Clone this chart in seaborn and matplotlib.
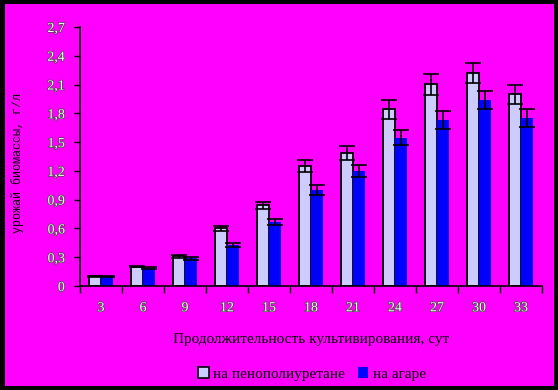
import numpy as np
import pandas as pd
import matplotlib
matplotlib.use("Agg")
import matplotlib.pyplot as plt
import matplotlib.patches as mpatches
import matplotlib.patheffects as pe
import seaborn as sns

days = ["3", "6", "9", "12", "15", "18", "21", "24", "27", "30", "33"]
ppu = [0.10, 0.20, 0.31, 0.60, 0.84, 1.25, 1.385, 1.84, 2.105, 2.22, 2.00]
ppu_err = [0.005, 0.005, 0.018, 0.03, 0.04, 0.063, 0.073, 0.094, 0.11, 0.104, 0.10]
agar = [0.10, 0.19, 0.29, 0.43, 0.67, 1.00, 1.20, 1.545, 1.73, 1.94, 1.75]
agar_err = [0.005, 0.01, 0.014, 0.02, 0.03, 0.05, 0.06, 0.08, 0.09, 0.094, 0.09]
series = ["на пенополиуретане", "на агаре"]
colors = ["#CCCCFF", "#0000FF"]
yticks = [0, 0.3, 0.6, 0.9, 1.2, 1.5, 1.8, 2.1, 2.4, 2.7]
ytick_labels = ["0", "0,3", "0,6", "0,9", "1,2", "1,5", "1,8", "2,1", "2,4", "2,7"]
xlabel = "Продолжительность культивирования, сут"
ylabel = "урожай биомассы, г/л"

df = pd.DataFrame({
    "day": days * 2,
    "value": ppu + agar,
    "series": [series[0]] * len(days) + [series[1]] * len(days),
})

W, H = 558, 390
fig = plt.figure(figsize=(W / 100, H / 100), dpi=100, facecolor="black")
fig.patches.append(mpatches.Rectangle((5 / W, 4 / H), 549 / W, 382 / H,
                                      transform=fig.transFigure, facecolor="#FF00FF",
                                      edgecolor="none", zorder=-5))
ax = fig.add_axes([80 / W, 104 / H, 462 / W, 259 / H])
ax.set_facecolor("none")
ax.set_zorder(2)

sns.barplot(data=df, x="day", y="value", hue="series", order=days,
            hue_order=series, palette=colors, width=0.59, saturation=1,
            errorbar=None, ax=ax, legend=False)

errs = [ppu_err, agar_err]
vals = [ppu, agar]
bar_conts = list(ax.containers)
for i, cont in enumerate(bar_conts):
    xs = []
    for p in cont.patches:
        xs.append(p.get_x() + p.get_width() / 2)
        if i == 0:
            p.set_edgecolor("black")
            p.set_linewidth(1.3)
        else:
            p.set_edgecolor("none")
    ax.errorbar(xs, vals[i], yerr=errs[i], fmt="none", ecolor="black",
                elinewidth=1.2, capsize=5.5, capthick=1.2, zorder=5)

ax.set_xlim(-0.5, len(days) - 0.5)
ax.set_ylim(0, 2.7)
ax.set_yticks(yticks)
ax.set_yticklabels(ytick_labels)
ax.set_xticks(np.arange(len(days)))
ax.set_xticklabels(days)
ax.set_xticks(np.arange(len(days) + 1) - 0.5, minor=True)
ax.tick_params(axis="x", which="major", length=0, pad=11)
ax.tick_params(axis="x", which="minor", length=5, width=1, color="black")
ax.tick_params(axis="y", which="major", length=4, width=1, color="black", pad=7)
for s in ["top", "right"]:
    ax.spines[s].set_visible(False)
for s in ["left", "bottom"]:
    ax.spines[s].set_color("black")
    ax.spines[s].set_linewidth(1.2)

for lab in ax.get_xticklabels() + ax.get_yticklabels():
    lab.set_fontfamily("Liberation Serif")
    lab.set_fontsize(10)
    lab.set_color("white")
    lab.set_path_effects([pe.withStroke(linewidth=1.0, foreground="#444444")])

ax.set_xlabel("")
ax.set_ylabel("")
fig.text(311 / W, 1 - 339 / H, xlabel, ha="center", va="center",
         fontfamily="Liberation Serif", fontsize=11, color="black")
fig.text(18 / W, 1 - 163 / H, ylabel, ha="center", va="center", rotation=90,
         fontfamily="Liberation Mono", fontsize=8.5, color="black")

handles = [mpatches.Patch(facecolor=colors[0], edgecolor="black", linewidth=1.2),
           mpatches.Patch(facecolor=colors[1], edgecolor="none")]
fig.legend(handles, series, loc="center", bbox_to_anchor=(312 / W, 1 - 374 / H),
           ncol=2, frameon=False, prop=dict(family="Liberation Serif", size=11),
           handlelength=0.7, handleheight=0.7, handletextpad=0.3, columnspacing=0.8,
           borderpad=0)

fig.savefig("out.png", dpi=100, facecolor="black")
